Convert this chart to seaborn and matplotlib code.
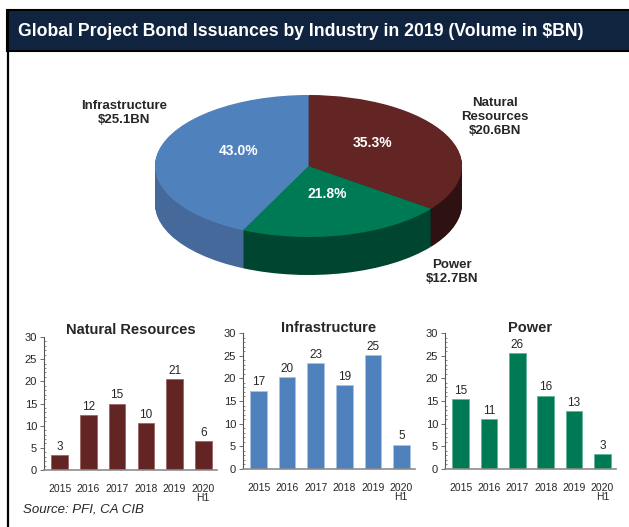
import numpy as np
import pandas as pd
import matplotlib
matplotlib.use("Agg")
import matplotlib.pyplot as plt
from matplotlib.patches import Rectangle
from matplotlib.lines import Line2D
from matplotlib.ticker import MultipleLocator
import seaborn as sns

# ---- data ----
years = ["2015", "2016", "2017", "2018", "2019", "2020\nH1"]
nat_res = [3.3, 12.5, 15.0, 10.5, 20.6, 6.5]
infra = [17.3, 20.2, 23.4, 18.6, 25.1, 5.4]
power = [15.4, 11.0, 25.6, 16.2, 12.7, 3.4]

# pie, clockwise from 12 o'clock
pie_names = ["Natural\nResources", "Power", "Infrastructure"]
pie_volumes = [20.6, 12.7, 25.1]
pie_shares = ["35.3%", "21.8%", "43.0%"]

title = "Global Project Bond Issuances by Industry in 2019 (Volume in $BN)"
source = "Source: PFI, CA CIB"

c_nr, c_pw, c_in = "#632523", "#007A55", "#4F81BD"
side_nr, side_pw, side_in = "#2E1111", "#004530", "#45699B"

sns.set_theme(style="white")
plt.rcParams["font.family"] = ["Liberation Sans", "DejaVu Sans"]

W, H = 629, 527
fig = plt.figure(figsize=(W / 100, H / 100), dpi=100)


def px_axes(l, t, r, b):
    return fig.add_axes([l / W, 1 - b / H, (r - l) / W, (b - t) / H])


# header bar and frame line
fig.patches.append(Rectangle((7 / W, 1 - 51 / H), 1.0, 41 / H, transform=fig.transFigure,
                             facecolor="#11243F", edgecolor="black", linewidth=1.5))
fig.lines.append(Line2D([7.5 / W, 7.5 / W], [0, 1 - 10 / H], transform=fig.transFigure,
                        color="black", linewidth=1.6))
fig.text(18 / W, 1 - 31 / H, title, color="white", fontsize=12.7, fontweight="bold",
         va="center", ha="left")

# ---- 3D-looking pie ----
depth = 0.535
pax = px_axes(155, 95, 462, 275)
for d in np.linspace(depth, 0.01, 50):
    pax.pie(pie_volumes, colors=[side_nr, side_pw, side_in], startangle=90,
            counterclock=False, center=(0, -d), radius=1,
            wedgeprops=dict(linewidth=0))
pax.pie(pie_volumes, colors=[c_nr, c_pw, c_in], startangle=90, counterclock=False,
        center=(0, 0), radius=1, wedgeprops=dict(linewidth=0))
pax.set_aspect("auto")
pax.set_xlim(-1, 1)
pax.set_ylim(-1 - depth, 1)
pax.axis("off")

pct_pos = [(0.417, 0.32), (0.124, -0.39), (-0.456, 0.21)]
for (x, y), s in zip(pct_pos, pie_shares):
    pax.text(x, y, s, color="white", fontsize=10, fontweight="bold", ha="center", va="center")

lab_pos = [(495, 117), (452, 272), (124, 113)]
for (x, y), n, v in zip(lab_pos, pie_names, pie_volumes):
    fig.text(x / W, 1 - y / H, f"{n}\n${v}BN", fontsize=9.5, fontweight="bold",
             ha="center", va="center", linespacing=1.2)

# ---- bar panels ----
panels = [
    ("Natural Resources", nat_res, c_nr, "#9A6664", (44, 337, 217, 470), 2.0),
    ("Infrastructure", infra, c_in, "#A9C3E3", (243, 333, 415, 469), 0.5),
    ("Power", power, c_pw, "#66B39B", (445, 333, 616, 469), 0.5),
]
for name, vals, col, edge, box, pad in panels:
    ax = px_axes(*box)
    df = pd.DataFrame({"year": years, "value": vals})
    sns.barplot(data=df, x="year", y="value", color=col, saturation=1, width=0.58,
                edgecolor=edge, linewidth=0.6, ax=ax)
    ax.bar_label(ax.containers[0], fmt="%.0f", padding=1.5, fontsize=8.5)
    ax.set_xlim(-0.55, 5.48)
    ax.set_ylim(0, 30)
    ax.yaxis.set_major_locator(MultipleLocator(5))
    ax.yaxis.set_minor_locator(MultipleLocator(1))
    ax.set_xlabel("")
    ax.set_ylabel("")
    ax.set_title(name, fontsize=10.5, fontweight="bold", pad=pad)
    sns.despine(ax=ax)
    ax.spines["left"].set_color("#555555")
    ax.spines["left"].set_linewidth(0.8)
    ax.spines["bottom"].set_color("#8C8C8C")
    ax.spines["bottom"].set_linewidth(1.2)
    ax.tick_params(axis="y", which="major", left=True, direction="out", length=3,
                   width=0.6, color="#555555", labelsize=8, pad=2)
    ax.tick_params(axis="y", which="minor", left=True, direction="in", length=1.5,
                   width=0.5, color="#555555")
    ax.tick_params(axis="x", bottom=False, labelsize=7.5, pad=4)
    for t in ax.get_xticklabels():
        t.set_linespacing(0.95)

fig.text(23 / W, 1 - 510 / H, source, fontsize=9.5, fontstyle="italic", ha="left", va="center")

fig.savefig("out.png", dpi=100)
